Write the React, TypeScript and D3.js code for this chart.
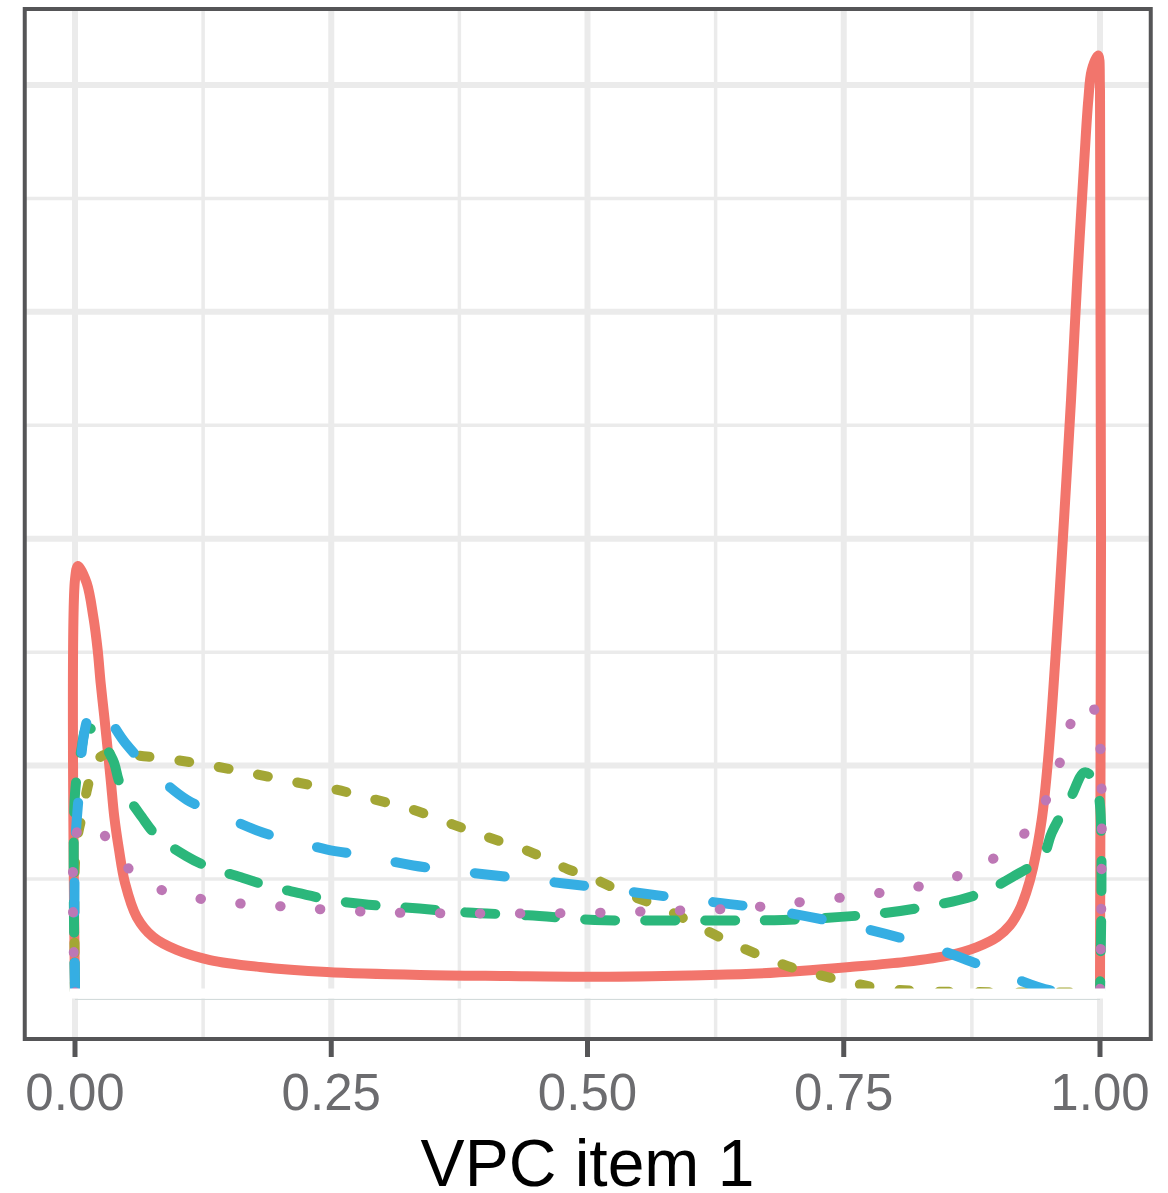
import React from "react";
import * as d3 from "d3";

// ---- data (x = VPC item 1, y = density) ----
const xTicks = [0, 0.25, 0.5, 0.75, 1];
const xTickLabels = ["0.00", "0.25", "0.50", "0.75", "1.00"];
const xMinorBreaks = [0.125, 0.375, 0.625, 0.875];
const yMajorBreaks = [2, 4, 6, 8];
const yMinorBreaks = [1, 3, 5, 7];
const axisTitle = "VPC item 1";

const seriesNames = ["s1", "s2", "s3", "s4", "s5"];

const redSeries: [number, number][] = [
  [0, 0], [0, 3.64], [0.003, 3.76], [0.0114, 3.61], [0.0179, 3.31], [0.0221, 3.02],
  [0.025, 2.73], [0.0286, 2.43], [0.0319, 2.14], [0.0351, 1.85], [0.0383, 1.55],
  [0.0429, 1.26], [0.0488, 0.965], [0.0602, 0.666], [0.0761, 0.49], [0.0992, 0.375],
  [0.1317, 0.286], [0.1805, 0.225], [0.2456, 0.18], [0.3366, 0.154], [0.42, 0.145],
  [0.512, 0.139], [0.6, 0.15], [0.66, 0.165], [0.707, 0.19], [0.756, 0.225],
  [0.81, 0.27], [0.854, 0.33], [0.88, 0.4], [0.9, 0.49], [0.912, 0.59],
  [0.921, 0.72], [0.928, 0.88], [0.9346, 1.097], [0.9431, 1.52], [0.9493, 2.05],
  [0.9577, 3.11], [0.9649, 4.17], [0.9717, 5.22], [0.9778, 6.28], [0.9847, 7.34],
  [0.9886, 7.87], [0.9919, 8.13], [0.9982, 8.26], [1.0, 7.95], [1.0, 0],
];

const oliveSeries: [number, number][] = [
  [0, 0], [0, 1.15], [0.003, 1.4], [0.008, 1.6], [0.012, 1.8], [0.02, 2.03],
  [0.03, 2.1], [0.07, 2.08], [0.113, 2.03], [0.151, 1.97], [0.19, 1.9],
  [0.229, 1.83], [0.254, 1.79], [0.293, 1.7], [0.33, 1.61], [0.369, 1.48],
  [0.406, 1.36], [0.444, 1.24], [0.48, 1.09], [0.502, 1.02], [0.538, 0.87],
  [0.575, 0.74], [0.611, 0.57], [0.647, 0.41], [0.684, 0.27], [0.707, 0.2],
  [0.756, 0.09], [0.785, 0.04], [0.824, 0.013], [0.9, 0.002], [1.0, 0],
];

const greenSeries: [number, number][] = [
  [0, 0], [0, 1.75], [0.006, 2.13], [0.0115, 2.33], [0.018, 2.31], [0.037, 2.05],
  [0.044, 1.84], [0.065, 1.55], [0.08, 1.38], [0.109, 1.2], [0.132, 1.1],
  [0.164, 1.01], [0.188, 0.94], [0.222, 0.87], [0.246, 0.82], [0.28, 0.78],
  [0.305, 0.76], [0.336, 0.74], [0.383, 0.705], [0.442, 0.68], [0.507, 0.64],
  [0.572, 0.635], [0.632, 0.635], [0.691, 0.64], [0.767, 0.68], [0.82, 0.74],
  [0.879, 0.86], [0.915, 1.02], [0.944, 1.2], [0.953, 1.41], [0.971, 1.71],
  [0.985, 1.94], [0.995, 1.87], [1.0, 1.65], [1.0, 0],
];

const blueSeries: [number, number][] = [
  [0, 0], [0, 1.25], [0.004, 1.78], [0.008, 2.23], [0.014, 2.45], [0.021, 2.52],
  [0.03, 2.45], [0.049, 2.2], [0.073, 1.97], [0.109, 1.7], [0.141, 1.57],
  [0.183, 1.41], [0.216, 1.33], [0.246, 1.26], [0.28, 1.21], [0.33, 1.12],
  [0.421, 1.02], [0.506, 0.93], [0.591, 0.83], [0.671, 0.74], [0.767, 0.57],
  [0.839, 0.39], [0.912, 0.14], [0.951, 0.02], [0.98, 0.002], [1.0, 0],
];

const purpleSeries: [number, number][] = [
  [0, 0], [0, 1.35], [0.006, 1.48], [0.012, 1.5], [0.021, 1.48], [0.044, 1.17],
  [0.075, 0.94], [0.114, 0.84], [0.154, 0.79], [0.194, 0.765], [0.235, 0.737],
  [0.29, 0.71], [0.33, 0.7], [0.493, 0.7], [0.539, 0.71], [0.579, 0.72],
  [0.62, 0.73], [0.661, 0.75], [0.701, 0.79], [0.787, 0.88], [0.826, 0.94],
  [0.865, 1.04], [0.901, 1.21], [0.932, 1.46], [0.951, 1.77], [0.964, 2.12],
  [0.976, 2.48], [0.985, 2.56], [0.994, 2.5], [1.0, 2.2], [1.0, 0],
];

const seriesData = [redSeries, oliveSeries, greenSeries, blueSeries, purpleSeries];
const seriesColors = ["#F2756C", "#A3A635", "#2BB77B", "#35AEE3", "#BD77B5"];
const seriesDash = ["none", "10 30", "30 30", "30 50", "0.5 39.5"];

export default function App() {
  const W = 1168;
  const H = 1193;
  const panel = { left: 23.75, right: 1151.25, top: 9, bottom: 1039 };

  const x = d3.scaleLinear().domain([-0.05, 1.05]).range([panel.left, panel.right]);
  const y = d3.scaleLinear().domain([-0.41, 8.67]).range([panel.bottom, panel.top]);

  const line = d3
    .line<[number, number]>()
    .x((d) => x(d[0]))
    .y((d) => y(d[1]))
    .curve(d3.curveCatmullRom.alpha(0.5));

  const gridColor = "#EBEBEB";
  const borderColor = "#555557";
  const tickTextColor = "#6C6C6F";
  const font = "'Liberation Sans', Arial, Helvetica, sans-serif";

  return (
    <svg
      width={W}
      height={H}
      style={{ position: "absolute", left: 0, top: 0, background: "#fff" }}
    >
      <rect x={0} y={0} width={W} height={H} fill="#fff" />
      {/* minor grid */}
      {xMinorBreaks.map((v) => (
        <line key={"xm" + v} x1={x(v)} x2={x(v)} y1={panel.top} y2={panel.bottom} stroke={gridColor} strokeWidth={3.5} />
      ))}
      {yMinorBreaks.map((v) => (
        <line key={"ym" + v} x1={panel.left} x2={panel.right} y1={y(v)} y2={y(v)} stroke={gridColor} strokeWidth={3.5} />
      ))}
      {/* major grid */}
      {xTicks.map((v) => (
        <line key={"xM" + v} x1={x(v)} x2={x(v)} y1={panel.top} y2={panel.bottom} stroke={gridColor} strokeWidth={6} />
      ))}
      {yMajorBreaks.map((v) => (
        <line key={"yM" + v} x1={panel.left} x2={panel.right} y1={y(v)} y2={y(v)} stroke={gridColor} strokeWidth={6} />
      ))}

      {/* density lines */}
      {seriesData.map((s, i) => (
        <path
          key={seriesNames[i]}
          d={line(s) || ""}
          fill="none"
          stroke={seriesColors[i]}
          strokeWidth={10}
          strokeDasharray={seriesDash[i]}
          strokeLinecap={i === 0 ? "butt" : "round"}
          strokeLinejoin="round"
        />
      ))}

      {/* baseline */}
      <line x1={x(0)} x2={x(1)} y1={y(0) + 6.8} y2={y(0) + 6.8} stroke="#d3dbdb" strokeWidth={1.2} />
      <line x1={x(0)} x2={x(1)} y1={y(0) + 1} y2={y(0) + 1} stroke="#ffffff" strokeWidth={10} strokeLinecap="square" />

      {/* panel border */}
      <rect
        x={panel.left + 1}
        y={panel.top}
        width={panel.right - panel.left - 1.5}
        height={panel.bottom - panel.top}
        fill="none"
        stroke={borderColor}
        strokeWidth={4}
      />

      {/* x axis ticks and labels */}
      {xTicks.map((v, i) => (
        <g key={"t" + v}>
          <line x1={x(v)} x2={x(v)} y1={panel.bottom} y2={panel.bottom + 18} stroke={borderColor} strokeWidth={5} />
          <text x={x(v)} y={1110} textAnchor="middle" fontFamily={font} fontSize={51} fill={tickTextColor}>
            {xTickLabels[i]}
          </text>
        </g>
      ))}

      <text
        x={(panel.left + panel.right) / 2}
        y={1186}
        textAnchor="middle"
        fontFamily={font}
        fontSize={66}
        fill="#000"
      >
        {axisTitle}
      </text>
    </svg>
  );
}
